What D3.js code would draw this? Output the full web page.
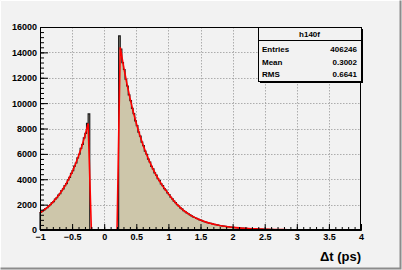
<!DOCTYPE html>
<html>
<head>
<meta charset="utf-8">
<script src="https://cdn.jsdelivr.net/npm/d3@7"></script>
<style>
  body { margin: 0; background: #fff; }
  text { font-family: "Liberation Sans", Arial, sans-serif; font-weight: bold; fill: #000; }
</style>
</head>
<body>
<div id="chart"></div>
<script>
// histogram h140f, 200 bins of 0.025 from -1 to 4
var histName = "h140f";
var xMin = -1, xMax = 4, binWidth = 0.025;
var counts = [
  1380, 1495, 1560, 1690, 1760, 1905, 1990, 2150, 2240, 2430,
  2540, 2750, 2870, 3100, 3240, 3500, 3660, 3950, 4140, 4470,
  4680, 5040, 5280, 5690, 5970, 6430, 6740, 7260, 7620, 8400, 9150,
  0, 0, 0, 0, 0, 0, 0, 0, 0, 0, 0, 0, 0, 0, 0, 0, 0, 0,
  15300,
  14250, 13200, 12650, 11880, 11350, 10650, 10200, 9580, 9170, 8600,
  8230, 7720, 7400, 6930, 6650, 6220, 5970, 5590, 5360, 5020,
  4820, 4500, 4330, 4040, 3890, 3630, 3490, 3260, 3140, 2930,
  2790, 2580, 2450, 2270, 2150, 1990, 1890, 1750, 1660, 1535,
  1455, 1350, 1280, 1185, 1120, 1040, 985, 912, 866, 800,
  760, 703, 668, 616, 586, 541, 515, 475, 452, 416,
  397, 366, 349, 321, 306, 282, 269, 248, 236, 217,
  207, 190, 182, 167, 160, 146, 141, 128, 123, 112,
  108, 99, 95, 87, 83, 76, 73, 67, 64, 58,
  57, 51, 50, 45, 44, 39, 38, 34, 33, 30,
  29, 26, 26, 23, 22, 20, 20, 18, 17, 15,
  15, 14, 13, 12, 11, 11, 10, 9, 9, 8,
  8, 7, 7, 6, 6, 5, 5, 5, 4, 4,
  4, 4, 3, 3, 3, 3, 3, 2, 2, 2,
  2, 2, 2, 2, 1, 1, 1, 1, 1, 1
];

// fit function, sampled every 0.05 from -1 to 4
var fitStep = 0.05;
var fitValues = [
  1350, 1525, 1723, 1946, 2198, 2483, 2805, 3169, 3579, 4043, 4567, 5159, 5828, 6583, 7436, 8400,
  0, 0, 0, 0, 0, 0, 0, 0, 0,
  14400, 12930, 11612, 10428, 9364, 8409, 7551, 6781, 6090, 5469, 4911, 4410, 3960, 3556, 3194, 2868,
  2518, 2211, 1941, 1705, 1497, 1314, 1154, 1013, 890, 781,
  686, 602, 529, 464, 408, 358, 314, 276, 242, 213,
  187, 164, 144, 127, 111, 98, 86, 75, 66, 58,
  51, 45, 39, 34, 30, 27, 23, 20, 18, 16,
  14, 12, 11, 9, 8, 7, 6, 6, 5, 4,
  4, 3, 3, 3, 2, 2, 2, 2, 1, 1
];

var xTicks = [-1, -0.5, 0, 0.5, 1, 1.5, 2, 2.5, 3, 3.5, 4];
var xTickLabels = ["\u22121", "\u22120.5", "0", "0.5", "1", "1.5", "2", "2.5", "3", "3.5", "4"];
var yTicks = [0, 2000, 4000, 6000, 8000, 10000, 12000, 14000, 16000];
var yTickLabels = ["0", "2000", "4000", "6000", "8000", "10000", "12000", "14000", "16000"];
var statsLabels = ["Entries", "Mean", "RMS"];
var statsValues = ["406246", "0.3002", "0.6641"];
var xTitle = "\u0394t (ps)";

var W = 402, H = 270;
var frame = {left: 40, right: 361, top: 27, bottom: 230};

let svg = d3.select('#chart').append('svg')
  .attr('width', W)
  .attr('height', H);

// canvas with bevel
svg.append('rect').attr('x', 0).attr('y', 0).attr('width', W).attr('height', H).attr('fill', '#f2f2f2');
svg.append('path').attr('d', `M0.5,${H - 0.5}V0.5H${W - 0.5}`).attr('fill', 'none').attr('stroke', '#fff');
svg.append('path').attr('d', `M0.5,${H - 1.5}H${W - 1.5}V0.5`).attr('fill', 'none').attr('stroke', '#8c8c8c').attr('stroke-width', 2);

let xScale = d3.scaleLinear().domain([xMin, xMax]).range([frame.left, frame.right]);
let yScale = d3.scaleLinear().domain([0, 16000]).range([frame.bottom, frame.top]);

// frame fill
svg.append('rect')
  .attr('x', frame.left).attr('y', frame.top)
  .attr('width', frame.right - frame.left).attr('height', frame.bottom - frame.top)
  .attr('fill', '#f2f2f2');

// grid
let grid = svg.append('g').attr('class', 'grid')
  .attr('stroke', '#9a9a9a').attr('stroke-width', 0.8).attr('stroke-dasharray', '1.5,1.5');
grid.selectAll('.gx').data(xTicks.slice(1, -1)).enter().append('line')
  .attr('x1', d => Math.round(xScale(d)) + 0.5).attr('x2', d => Math.round(xScale(d)) + 0.5)
  .attr('y1', frame.top).attr('y2', frame.bottom);
grid.selectAll('.gy').data(yTicks.slice(1, -1)).enter().append('line')
  .attr('y1', d => Math.round(yScale(d)) + 0.5).attr('y2', d => Math.round(yScale(d)) + 0.5)
  .attr('x1', frame.left).attr('x2', frame.right);

// histogram
let pts = [[xScale(xMin), yScale(0)]];
counts.forEach((c, i) => {
  let lo = xMin + i * binWidth, hi = lo + binWidth;
  pts.push([xScale(lo), yScale(c)]);
  pts.push([xScale(hi), yScale(c)]);
});
pts.push([xScale(xMax), yScale(0)]);
svg.append('path')
  .attr('d', d3.line()(pts))
  .attr('fill', '#cdc6aa')
  .attr('stroke', '#1a1a1a')
  .attr('stroke-width', 1.2)
  .attr('stroke-linejoin', 'miter');

// fit curve
let fitLine = d3.line()
  .x((d, i) => xScale(xMin + i * fitStep))
  .y(d => yScale(d));
svg.append('path')
  .attr('d', fitLine(fitValues))
  .attr('fill', 'none')
  .attr('stroke', '#ff0000')
  .attr('stroke-width', 1.6);

// frame border
svg.append('rect')
  .attr('x', frame.left + 0.5).attr('y', frame.top + 0.5)
  .attr('width', frame.right - frame.left - 1).attr('height', frame.bottom - frame.top - 1)
  .attr('fill', 'none').attr('stroke', '#000');

// x axis (ticks pointing up)
let xAxis = d3.axisBottom(xScale)
  .tickValues(xTicks)
  .tickFormat((d, i) => xTickLabels[i])
  .tickSizeInner(-6).tickSizeOuter(0).tickPadding(4);
let xMinor = d3.axisBottom(xScale)
  .tickValues(d3.range(0, 51).map(i => xMin + i * 0.1))
  .tickFormat('').tickSizeInner(-3).tickSizeOuter(0);
let gx = svg.append('g').attr('transform', `translate(0, ${frame.bottom})`);
gx.call(xMinor);
gx.append('g').call(xAxis);
gx.selectAll('.domain').attr('stroke', '#000');
gx.selectAll('text').attr('font-size', 9).attr('font-family', null);

// y axis (ticks pointing right)
let yAxis = d3.axisLeft(yScale)
  .tickValues(yTicks)
  .tickFormat((d, i) => yTickLabels[i])
  .tickSizeInner(-8).tickSizeOuter(0).tickPadding(3);
let yMinor = d3.axisLeft(yScale)
  .tickValues(d3.range(0, 41).map(i => i * 400))
  .tickFormat('').tickSizeInner(-4).tickSizeOuter(0);
let gy = svg.append('g').attr('transform', `translate(${frame.left}, 0)`);
gy.call(yMinor);
gy.append('g').call(yAxis);
gy.selectAll('text').attr('font-size', 9).attr('font-family', null);

// axis title
svg.append('text')
  .attr('x', frame.right).attr('y', 261)
  .attr('text-anchor', 'end')
  .attr('font-size', 13)
  .text(xTitle);

// stats box
let box = {x: 258, y: 27, w: 103, h: 54};
let sb = svg.append('g');
sb.append('rect').attr('x', box.x + 2).attr('y', box.y + 2).attr('width', box.w).attr('height', box.h).attr('fill', '#000');
sb.append('rect').attr('x', box.x + 0.5).attr('y', box.y + 0.5).attr('width', box.w).attr('height', box.h)
  .attr('fill', '#f2f2f2').attr('stroke', '#000');
sb.append('line').attr('x1', box.x).attr('x2', box.x + box.w).attr('y1', box.y + 13.5).attr('y2', box.y + 13.5).attr('stroke', '#000');
sb.append('text').attr('x', box.x + box.w / 2).attr('y', box.y + 10).attr('text-anchor', 'middle').attr('font-size', 8).text(histName);
statsLabels.forEach((lab, i) => {
  sb.append('text').attr('x', box.x + 4).attr('y', box.y + 25 + i * 12.5).attr('font-size', 8).text(lab);
  sb.append('text').attr('x', box.x + box.w - 4).attr('y', box.y + 25 + i * 12.5)
    .attr('text-anchor', 'end').attr('font-size', 8).text(statsValues[i]);
});
</script>
</body>
</html>
